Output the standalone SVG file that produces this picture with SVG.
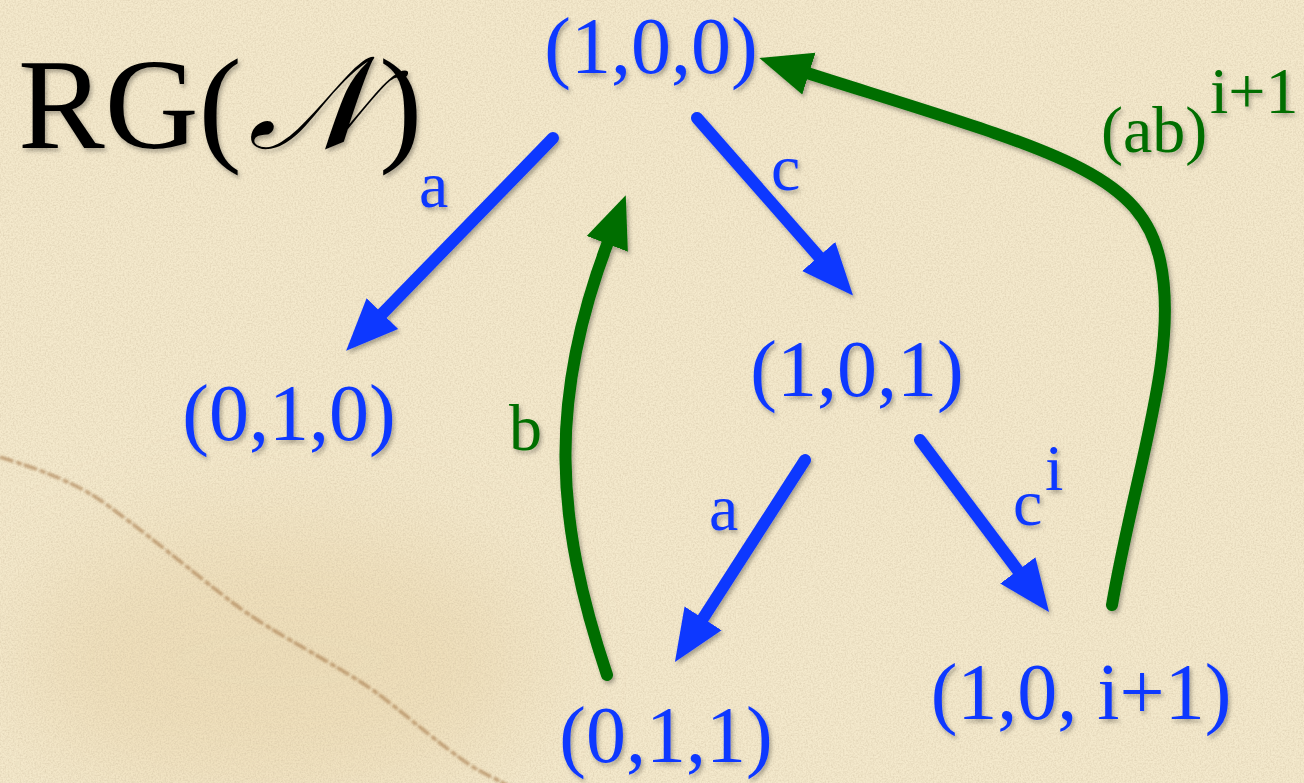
<svg xmlns="http://www.w3.org/2000/svg" width="1304" height="783" viewBox="0 0 1304 783">
  <defs>
    <style>
      .node { font-family: "Liberation Serif", "Times New Roman", serif; font-size: 80px; fill: #0F37FF; text-anchor: middle; }
      .lbl { font-family: "Liberation Serif", "Times New Roman", serif; font-size: 66px; }
      .blue { fill: #0F37FF; }
      .green { fill: #056E05; }
      .title { font-family: "Liberation Serif", "Times New Roman", serif; font-size: 130px; fill: #000; }
      .eb { fill: none; stroke: #0F37FF; stroke-width: 12; stroke-linecap: round; marker-end: url(#ahB); }
      .eg { fill: none; stroke: #056E05; stroke-width: 12; stroke-linecap: round; marker-end: url(#ahG); }
    </style>
    <marker id="ahB" markerUnits="userSpaceOnUse" viewBox="0 -24 54 48" refX="2" refY="0" markerWidth="54" markerHeight="48" orient="auto">
      <path d="M0,-22 L52,0 L0,22 Z" fill="#0F37FF"/>
    </marker>
    <marker id="ahG" markerUnits="userSpaceOnUse" viewBox="0 -24 54 48" refX="2" refY="0" markerWidth="54" markerHeight="48" orient="auto">
      <path d="M0,-22 L52,0 L0,22 Z" fill="#056E05"/>
    </marker>
    <filter id="shadow" x="-10%" y="-10%" width="120%" height="120%">
      <feDropShadow dx="2" dy="3" stdDeviation="2" flood-color="#000" flood-opacity="0.3"/>
    </filter>
    <filter id="paper" x="0" y="0" width="100%" height="100%">
      <feTurbulence type="fractalNoise" baseFrequency="0.6" numOctaves="3" seed="4" result="n"/>
      <feColorMatrix in="n" type="matrix" values="0 0 0 0 0.55  0 0 0 0 0.45  0 0 0 0 0.3  0.7 0 0 0 -0.25"/>
    </filter>
    <filter id="blur" x="-20%" y="-20%" width="140%" height="140%">
      <feGaussianBlur stdDeviation="1.2"/>
    </filter>
    <filter id="bigblur" x="-50%" y="-50%" width="200%" height="200%">
      <feGaussianBlur stdDeviation="50"/>
    </filter>
  </defs>

  <!-- background -->
  <rect x="0" y="0" width="1304" height="783" fill="#F4E9CC"/>
  <ellipse cx="280" cy="660" rx="260" ry="140" fill="#E6CFA0" opacity="0.4" filter="url(#bigblur)"/>
  <rect x="0" y="0" width="1304" height="783" filter="url(#paper)"/>
  <path d="M0,457 C35,468 70,480 100,500 C140,528 190,570 233,603 C280,638 330,660 377,693 C410,718 440,745 473,767 C490,777 505,783 515,790" fill="none" stroke="#9E6E3E" stroke-width="3.5" stroke-dasharray="14 3 6 2" opacity="0.55" filter="url(#blur)"/>

  <!-- title -->
  <g id="title" filter="url(#shadow)">
    <text class="title" x="18" y="148">RG(<tspan font-family="DejaVu Serif, Liberation Serif, serif" font-style="italic" dx="6">𝒩</tspan><tspan dx="6">)</tspan></text>
  </g>

  <!-- connectors -->
  <g id="connectors" filter="url(#shadow)">
    <path id="e-100-010" class="eb" d="M553,138 L381,315"/>
    <path id="e-100-101" class="eb" d="M697,118 L820,258"/>
    <path id="e-101-011" class="eb" d="M805,460 L702,620"/>
    <path id="e-101-10i" class="eb" d="M920,440 L1019,572"/>
    <path id="e-011-100" class="eg" d="M607,675 C555,520 548,400 608,242"/>
    <path id="e-10i-100" class="eg" d="M1112,605 C1135,470 1180,350 1160,260 C1140,170 1050,150 807,73"/>
    <text class="lbl blue" x="419" y="207">a</text>
    <text class="lbl blue" x="771" y="190">c</text>
    <text class="lbl blue" x="709" y="530">a</text>
    <text class="lbl blue" x="1013" y="525">c</text>
    <text class="lbl blue" x="1045" y="490">i</text>
    <text class="lbl green" x="509" y="450">b</text>
    <text class="lbl green" x="1101" y="152">(ab)</text>
    <text class="lbl green" x="1210" y="113">i+1</text>
  </g>

  <!-- nodes -->
  <g id="n100" filter="url(#shadow)"><text class="node" x="651" y="73">(1,0,0)</text></g>
  <g id="n010" filter="url(#shadow)"><text class="node" x="289" y="440">(0,1,0)</text></g>
  <g id="n101" filter="url(#shadow)"><text class="node" x="857" y="396">(1,0,1)</text></g>
  <g id="n011" filter="url(#shadow)"><text class="node" x="666" y="762">(0,1,1)</text></g>
  <g id="n10i" filter="url(#shadow)"><text class="node" x="1081" y="719">(1,0, i+1)</text></g>
</svg>
